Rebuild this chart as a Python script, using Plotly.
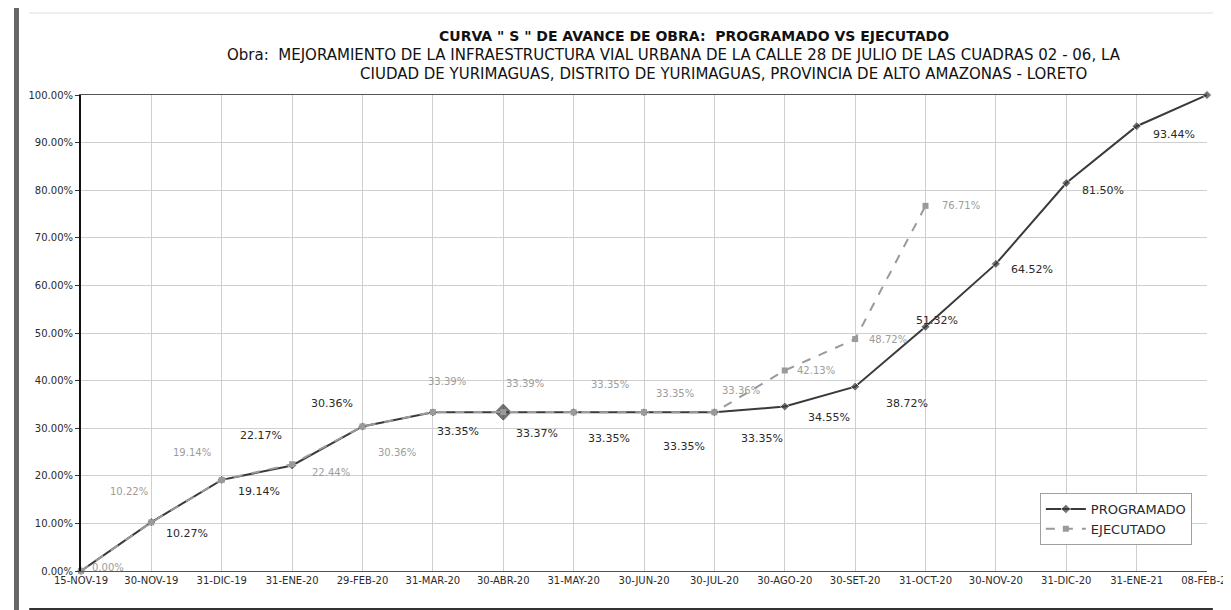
import plotly.graph_objects as go

# ---- data ----
fechas = ["15-NOV-19", "30-NOV-19", "31-DIC-19", "31-ENE-20", "29-FEB-20", "31-MAR-20",
          "30-ABR-20", "31-MAY-20", "30-JUN-20", "30-JUL-20", "30-AGO-20", "30-SET-20",
          "31-OCT-20", "30-NOV-20", "31-DIC-20", "31-ENE-21", "08-FEB-21"]
programado = [0.00, 10.27, 19.14, 22.17, 30.36, 33.35, 33.37, 33.35, 33.35, 33.35,
              34.55, 38.72, 51.32, 64.52, 81.50, 93.44, 100.00]
ejecutado = [0.00, 10.22, 19.14, 22.44, 30.36, 33.39, 33.39, 33.35, 33.35, 33.36,
             42.13, 48.72, 76.71]
y_ticks = [0, 10, 20, 30, 40, 50, 60, 70, 80, 90, 100]

titulo = "CURVA \" S \" DE AVANCE DE OBRA:  PROGRAMADO VS EJECUTADO"
obra_1 = "Obra:  MEJORAMIENTO DE LA INFRAESTRUCTURA VIAL URBANA DE LA CALLE 28 DE JULIO DE LAS CUADRAS 02 - 06, LA"
obra_2 = "CIUDAD DE YURIMAGUAS, DISTRITO DE YURIMAGUAS, PROVINCIA DE ALTO AMAZONAS - LORETO"

# ---- label offsets (pixels: dx right, dy down) : style only ----
prog_off = [None, (36, 11), (37, 12), (-31, -30), (-31, -23), (25, 19), (34, 21), (35, 26),
            (40, 34), (48, 26), (44, 11), (52, 17), (11, -6), (36, 6), (37, 7), (37, 8), None]
ejec_off = [(27, -4), (-22, -31), (-30, -27), (39, 8), (34, 26), (14, -31), (22, -29), (36, -28),
            (31, -19), (27, -22), (31, 0), (33, 0), (35, 0)]

FONT = "DejaVu Sans"
DARK = "#2a2a2a"
LIGHT = "#9c9c9c"

fig = go.Figure()
prog_sizes = [7] * len(programado)
prog_sizes[6] = 14
fig.add_trace(go.Scatter(
    x=fechas, y=programado, name="PROGRAMADO", mode="lines+markers",
    line=dict(color="#3a3a3a", width=2),
    marker=dict(symbol="diamond", size=prog_sizes, color="#3a3a3a"),
    cliponaxis=False,
))
fig.add_trace(go.Scatter(
    x=fechas[:len(ejecutado)], y=ejecutado, name="EJECUTADO", mode="lines+markers",
    line=dict(color="#9a9a9a", width=2, dash="dash"),
    marker=dict(symbol="square", size=6, color="#9a9a9a"),
    cliponaxis=False,
))

annotations = []
for i, v in enumerate(programado):
    off = prog_off[i]
    if off is None:
        continue
    annotations.append(dict(x=fechas[i], y=v, text=f"{v:.2f}%", showarrow=False,
                            xshift=off[0], yshift=-off[1],
                            font=dict(family=FONT, size=11, color=DARK)))
for i, v in enumerate(ejecutado):
    off = ejec_off[i]
    annotations.append(dict(x=fechas[i], y=v, text=f"{v:.2f}%", showarrow=False,
                            xshift=off[0], yshift=-off[1],
                            font=dict(family=FONT, size=10, color=LIGHT)))

# titles (paper coords; plot spans x 73..1225 px, y 87..563 px)
def px_x(p):
    return (p - 73) / 1152.0

def px_y(p):
    return (563 - p) / 476.0

annotations.append(dict(text="<b>" + titulo + "</b>", x=px_x(700), y=px_y(28), xref="paper", yref="paper",
                        showarrow=False, font=dict(family=FONT, size=14, color="#111"),
                        xanchor="center", yanchor="middle"))
annotations.append(dict(text=obra_1, x=px_x(680), y=px_y(47), xref="paper", yref="paper",
                        showarrow=False, font=dict(family=FONT, size=15, color="#111"),
                        xanchor="center", yanchor="middle"))
annotations.append(dict(text=obra_2, x=px_x(730), y=px_y(66), xref="paper", yref="paper",
                        showarrow=False, font=dict(family=FONT, size=15, color="#111"),
                        xanchor="center", yanchor="middle"))

shapes = [
    dict(type="line", xref="paper", yref="paper", x0=px_x(7), x1=px_x(7), y0=px_y(0), y1=px_y(610),
         line=dict(color="#666", width=5)),
    dict(type="line", xref="paper", yref="paper", x0=px_x(20), x1=px_x(1231), y0=px_y(601), y1=px_y(601),
         line=dict(color="#333", width=2)),
    dict(type="line", xref="paper", yref="paper", x0=px_x(20), x1=px_x(1231), y0=px_y(5), y1=px_y(5),
         line=dict(color="#ddd", width=1)),
]

fig.update_layout(
    width=1231, height=610,
    margin=dict(l=73, r=6, t=87, b=47),
    paper_bgcolor="white", plot_bgcolor="white",
    font=dict(family=FONT, color=DARK),
    showlegend=True,
    legend=dict(x=px_x(1054), y=px_y(485), xanchor="left", yanchor="top",
                bgcolor="white", bordercolor="#a0a0a0", borderwidth=1,
                font=dict(family=FONT, size=13, color=DARK),
                itemwidth=40, tracegroupgap=6),
    annotations=annotations,
    shapes=shapes,
)
fig.update_xaxes(type="category", range=[0, 16], showgrid=True, gridcolor="#cfcfcf", gridwidth=1,
                 showline=True, linecolor="#555", linewidth=1, mirror=True,
                 tickfont=dict(family=FONT, size=10, color=DARK), tickangle=0,
                 ticks="", zeroline=False)
fig.update_yaxes(range=[0, 100], tickvals=y_ticks, ticktext=[f"{t:.2f}%" for t in y_ticks],
                 showgrid=True, gridcolor="#cfcfcf",
                 showline=True, linecolor="#111", linewidth=2, ticks="outside", ticklen=4,
                 tickcolor="#333", tickfont=dict(family=FONT, size=10, color=DARK),
                 zeroline=False)

fig.write_html("out.html")
